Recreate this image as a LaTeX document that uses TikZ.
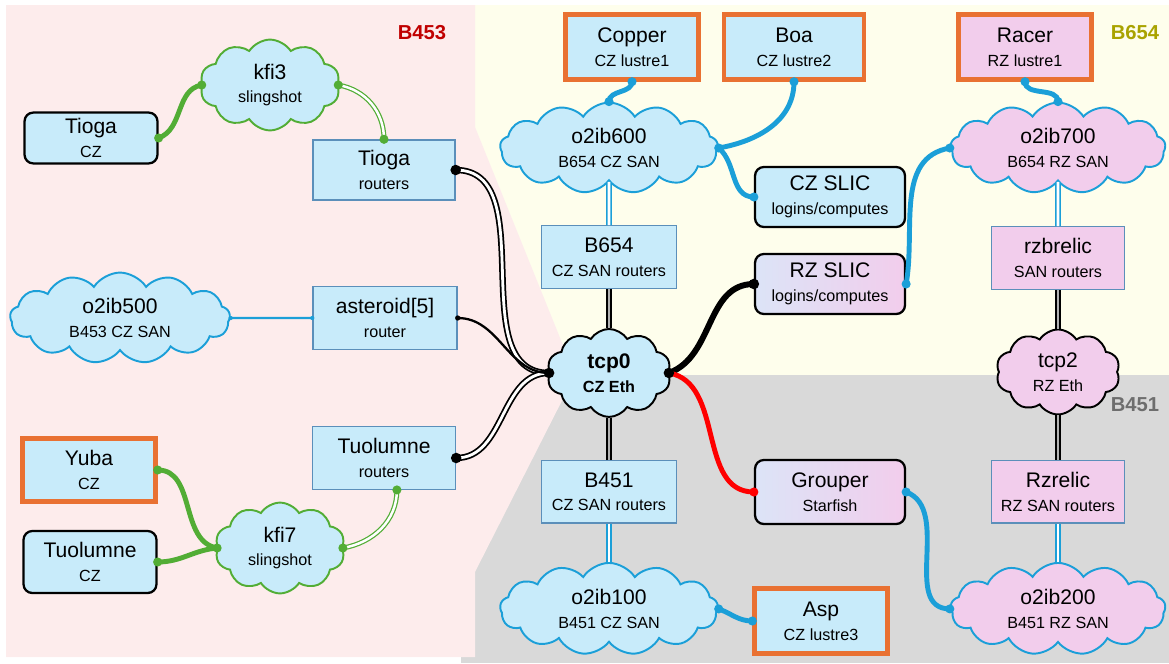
\documentclass[tikz,border=0pt]{standalone}
\usepackage{fontspec}
\setmainfont{Liberation Sans}
\usetikzlibrary{shapes.symbols}

\definecolor{cyanfill}{HTML}{C8EBFA}
\definecolor{pinkfill}{HTML}{F2CDEC}
\definecolor{lavfill}{HTML}{DCE4F7}
\definecolor{fsorange}{HTML}{E97132}
\definecolor{rtborder}{HTML}{5B8FBA}
\definecolor{netblue}{HTML}{1B9FD8}
\definecolor{netgreen}{HTML}{52AD35}
\definecolor{bgpink}{HTML}{FDECEC}
\definecolor{bgyellow}{HTML}{FEFEEC}
\definecolor{bggrey}{HTML}{D9D9D9}
\definecolor{redlbl}{HTML}{C00000}
\definecolor{olivelbl}{HTML}{A9A300}
\definecolor{greylbl}{HTML}{6E6E6E}

\newcommand{\netlbl}[2]{#1\\[0.5pt]{\fontsize{9.2}{11}\selectfont #2}}

\begin{document}
\begin{tikzpicture}[x=0.02cm, y=-0.02cm, font=\fontsize{12}{13}\selectfont,
    czbox/.style={rectangle, rounded corners=5pt, draw=black, line width=1.3pt, fill=cyanfill,
                  align=center, minimum width=2.66cm, minimum height=1.2cm},
    rzbox/.style={czbox, left color=lavfill, right color=pinkfill},
    rtbox/.style={rectangle, draw=rtborder, line width=0.8pt, fill=cyanfill, align=center,
                  minimum width=2.7cm, minimum height=1.25cm},
    fsbox/.style={rectangle, draw=fsorange, line width=2.5pt, fill=cyanfill, align=center,
                  minimum width=2.66cm, minimum height=1.3cm},
    net/.style={cloud, cloud puffs=13, cloud puff arc=115, cloud ignores aspect, draw=netblue,
                line width=1.1pt, fill=cyanfill, align=center, minimum width=4.36cm, minimum height=1.8cm},
    slingnet/.style={net, draw=netgreen, cloud puffs=10, minimum width=2.8cm, minimum height=1.7cm},
    ethnet/.style={net, draw=black, cloud puffs=10, minimum width=2.48cm, minimum height=1.76cm},
    zonelbl/.style={font=\fontsize{11.5}{12}\selectfont\bfseries},
    greenlink/.style={draw=netgreen, line width=2.8pt},
    greendbl/.style={draw=netgreen, line width=0.7pt, double=white, double distance=1.4pt},
    blackdbl/.style={draw=black, line width=1pt, double=white, double distance=1.6pt},
    bluelink/.style={draw=netblue, line width=2.8pt},
    bluedbl/.style={draw=netblue, line width=0.8pt, double=white, double distance=1.6pt}]

  \useasboundingbox (0,0) rectangle (1169,663);

  % buildings
  \fill[bgyellow] (475,5) rectangle (1169,375);
  \fill[bggrey] (461,375) rectangle (1169,663);
  \fill[bgpink] (6,5) -- (475,5) -- (475,127) -- (575,375) -- (475,572) -- (475,657) -- (6,657) -- cycle;

  \node[zonelbl, text=redlbl] (b453) at (422,33) {B453};
  \node[zonelbl, text=olivelbl] (b654) at (1135,33) {B654};
  \node[zonelbl, text=greylbl] (b451) at (1135,405) {B451};

  % B453 side
  \node[czbox, minimum height=1cm] (tiogacz) at (91,138) {\netlbl{Tioga}{CZ}};
  \node[slingnet] (kfi3) at (270,85) {\netlbl{kfi3}{slingshot}};
  \node[rtbox, minimum width=2.84cm, minimum height=1.2cm] (tiogart) at (384,170) {\netlbl{Tioga}{routers}};
  \node[net, minimum width=4.4cm] (o2ib500) at (120,318) {\netlbl{o2ib500}{B453 CZ SAN}};
  \node[rtbox, minimum width=2.88cm] (asteroid) at (385,318) {\netlbl{asteroid[5]}{router}};
  \node[fsbox, minimum height=1.26cm] (yuba) at (89,470) {\netlbl{Yuba}{CZ}};
  \node[czbox, minimum height=1.24cm] (tuolumnecz) at (90,562) {\netlbl{Tuolumne}{CZ}};
  \node[slingnet, minimum width=2.6cm, minimum height=1.76cm] (kfi7) at (280,548) {\netlbl{kfi7}{slingshot}};
  \node[rtbox, minimum width=2.86cm] (tuolumnert) at (384,458) {\netlbl{Tuolumne}{routers}};

  % CZ column
  \node[fsbox] (copper) at (632,47) {\netlbl{Copper}{CZ lustre1}};
  \node[fsbox, minimum width=2.8cm] (boa) at (794,47) {\netlbl{Boa}{CZ lustre2}};
  \node[net] (o2ib600) at (609,148) {\netlbl{o2ib600}{B654 CZ SAN}};
  \node[rtbox] (b654rt) [below of=o2ib600, node distance=2.18cm] {\netlbl{B654}{CZ SAN routers}};
  \node[ethnet, font=\fontsize{12}{13}\selectfont\bfseries] (tcp0) [below of=b654rt, node distance=2.32cm] {\netlbl{tcp0}{CZ Eth}};
  \node[rtbox] (b451rt) [below of=tcp0, node distance=2.38cm] {\netlbl{B451}{CZ SAN routers}};
  \node[net, minimum height=1.84cm] (o2ib100) [below of=b451rt, node distance=2.34cm] {\netlbl{o2ib100}{B451 CZ SAN}};
  \node[fsbox] (asp) at (821,621) {\netlbl{Asp}{CZ lustre3}};

  \node[czbox, minimum width=3cm] (czslic) at (830,197) {\netlbl{CZ SLIC}{logins/computes}};
  \node[rzbox, minimum width=3cm] (rzslic) at (830,284) {\netlbl{RZ SLIC}{logins/computes}};
  \node[rzbox, minimum width=3cm, minimum height=1.28cm] (grouper) at (830,492) {\netlbl{Grouper}{Starfish}};

  % RZ column
  \node[fsbox, fill=pinkfill] (racer) at (1025,47) {\netlbl{Racer}{RZ lustre1}};
  \node[net, fill=pinkfill, minimum width=4.3cm] (o2ib700) at (1058,148) {\netlbl{o2ib700}{B654 RZ SAN}};
  \node[rtbox, fill=pinkfill, minimum width=2.66cm] (rzbrelic) [below of=o2ib700, node distance=2.2cm] {\netlbl{rzbrelic}{SAN routers}};
  \node[ethnet, fill=pinkfill, minimum height=1.7cm] (tcp2) [below of=rzbrelic, node distance=2.28cm] {\netlbl{tcp2}{RZ Eth}};
  \node[rtbox, fill=pinkfill, minimum width=2.66cm] (rzrelic) [below of=tcp2, node distance=2.4cm] {\netlbl{Rzrelic}{RZ SAN routers}};
  \node[net, fill=pinkfill, minimum width=4.3cm, minimum height=1.84cm] (o2ib200) [below of=rzrelic, node distance=2.34cm] {\netlbl{o2ib200}{B451 RZ SAN}};

  % slingshot links
  \draw[greenlink]
    (tiogacz.east) edge[out=20, in=190] (kfi3.west)
    (yuba.east) edge[out=0, in=170] (kfi7.west)
    (tuolumnecz.east) edge[out=0, in=185] (kfi7.west);
  \path
    (kfi3.east) edge[greendbl, out=-10, in=90] (tiogart.north)
    (kfi7.east) edge[greendbl, out=10, in=-90] (tuolumnert.-68);

  % ethernet links
  \path
    (tiogart.east) edge[blackdbl, out=0, in=180] (tcp0.west)
    (tuolumnert.east) edge[blackdbl, out=0, in=180] (tcp0.west)
    (b654rt.south) edge[blackdbl, double=gray!60] (tcp0.north)
    (tcp0.south) edge[blackdbl, double=gray!60] (b451rt.north)
    (rzbrelic.south) edge[blackdbl, double=gray!60] (tcp2.north)
    (tcp2.south) edge[blackdbl, double=gray!60] (rzrelic.north);
  \draw[line width=1.3pt] (asteroid.east) edge[out=0, in=180] (tcp0.west);
  \draw[line width=3.4pt] (tcp0.east) edge[out=20, in=180] (rzslic.west);
  \draw[red, line width=2.8pt] (tcp0.east) edge[out=-10, in=180] (grouper.west);

  % SAN links
  \path
    (o2ib600.south) edge[bluedbl] (b654rt.north)
    (b451rt.south) edge[bluedbl] (o2ib100.north)
    (o2ib700.south) edge[bluedbl] (rzbrelic.north)
    (rzrelic.south) edge[bluedbl] (o2ib200.north);
  \draw[bluelink]
    (copper.south) edge[out=-90, in=90] (o2ib600.north)
    (boa.south) edge[out=-90, in=10] (o2ib600.east)
    (o2ib600.east) edge[out=-40, in=180] (czslic.west)
    (o2ib100.east) edge[out=-20, in=180] (asp.west)
    (racer.south) edge[out=-90, in=90] (o2ib700.north)
    (rzslic.east) edge[out=80, in=190] (o2ib700.west)
    (grouper.east) edge[out=-20, in=180] (o2ib200.west);
  \draw[netblue, line width=1.2pt] (o2ib500.east) -- (asteroid.west);

  % end dots
  \foreach \p in {tiogacz.east, kfi3.west, kfi3.east, tiogart.north, yuba.east, tuolumnecz.east,
                  kfi7.west, kfi7.east, tuolumnert.-68}
    \fill[netgreen] (\p) circle (2.6pt);
  \foreach \p in {tiogart.east, tuolumnert.east, tcp0.west, tcp0.east, rzslic.west}
    \fill (\p) circle (3pt);
  \foreach \p in {copper.south, o2ib600.north, boa.south, o2ib600.east, czslic.west, o2ib100.east,
                  asp.west, racer.south, o2ib700.north, rzslic.east, o2ib700.west, grouper.east, o2ib200.west}
    \fill[netblue] (\p) circle (2.6pt);
  \fill (asteroid.east) circle (1.5pt);
  \fill[netblue] (o2ib500.east) circle (1.2pt) (asteroid.west) circle (1.2pt);
  \fill[red] (grouper.west) circle (2.6pt);
\end{tikzpicture}
\end{document}
